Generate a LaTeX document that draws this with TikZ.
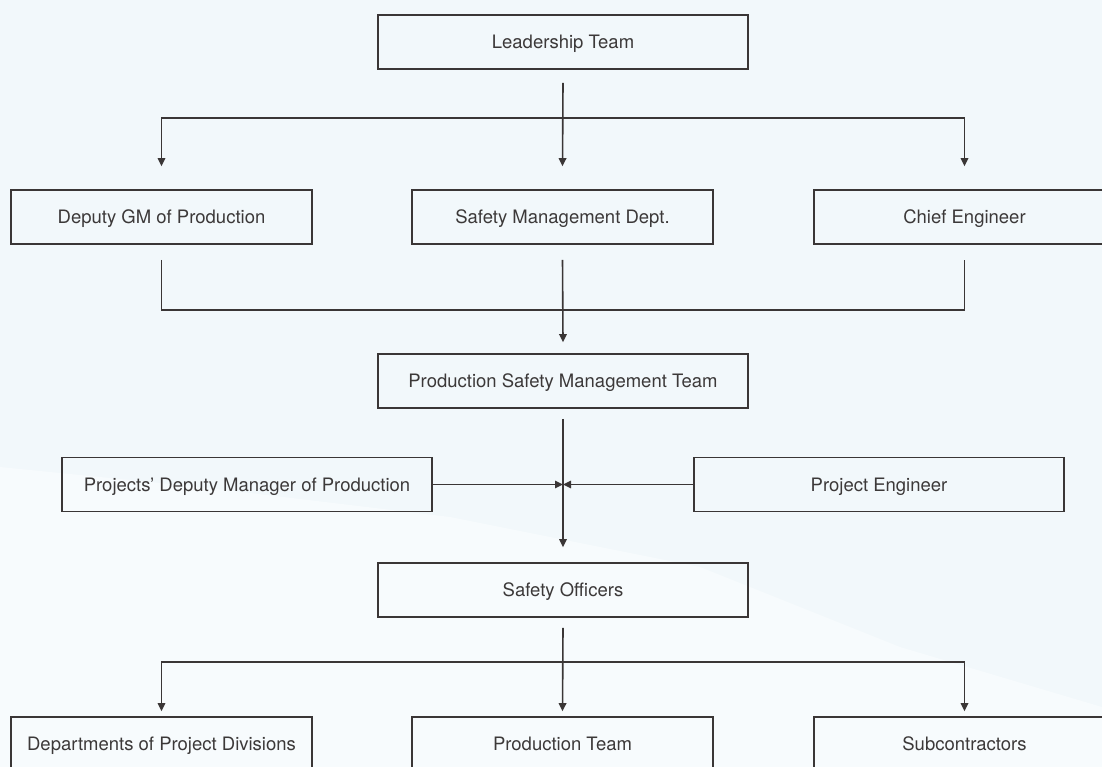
\documentclass[tikz,border=0pt]{standalone}
\usepackage{fontspec}
\setmainfont{TeX Gyre Heros}
\usetikzlibrary{arrows.meta,calc}
\definecolor{bgc}{RGB}{242,248,251}
\definecolor{bgl}{RGB}{247,251,253}
\definecolor{linec}{RGB}{58,54,54}
\definecolor{txtc}{RGB}{60,57,57}
\tikzset{
  box/.style={draw=linec, line width=1.6pt, minimum height=54pt, inner sep=0pt,
    text height=13.3pt, text depth=0pt,
    text=txtc, font=\fontsize{18.5}{20}\selectfont},
  wbox/.style={box, minimum width=370pt},
  nbox/.style={box, minimum width=301pt},
  conn/.style={draw=linec, line width=1.6pt},
  arr/.style={conn, -{Triangle[length=8pt,width=7.5pt]}},
  darr/.style={conn, {Triangle[length=8pt,width=7.5pt]}-{Triangle[length=8pt,width=7.5pt]}}
}
\begin{document}
\begin{tikzpicture}[x=1pt,y=1pt]
% background
\fill[bgc] (0,0) rectangle (1102,767);
\fill[bgl] (0,300) -- (200,280) -- (450,250) -- (700,200) -- (900,120) -- (1102,60) -- (1102,0) -- (0,0) -- cycle;
\useasboundingbox (0,0) rectangle (1102,767);

% nodes
\node[wbox] (lead) at (563,725) {Leadership Team};
\node[nbox] (dgm) at (161.5,550) {Deputy GM of Production};
\node[nbox] (smd) at (562.5,550) {Safety Management Dept.};
\node[nbox] (ce) at (964.5,550) {Chief Engineer};
\node[wbox] (psmt) at (563,386) {Production Safety Management Team};
\node[wbox] (pdm) at (247,282.5) {Projects’ Deputy Manager of Production};
\node[wbox] (pe) at (879,282.5) {Project Engineer};
\node[wbox] (so) at (563,177) {Safety Officers};
\node[nbox] (dep) at (161.5,23) {Departments of Project Divisions};
\node[nbox] (pt) at (562.5,23) {Production Team};
\node[nbox] (sub) at (964.5,23) {Subcontractors};

\coordinate (h1) at (0,649);
\coordinate (h2) at (0,457);
\coordinate (h3) at (0,105);

% Leadership -> row 2
\draw[arr] ([yshift=-13pt]lead.south) -- ([yshift=23pt]smd.north);
\draw[darr] ([yshift=23pt]dgm.north) -- (h1 -| dgm.north) -- (h1 -| ce.north) -- ([yshift=23pt]ce.north);

% row 2 -> PSMT
\draw[conn] ([yshift=-15pt]dgm.south) -- (h2 -| dgm.south) -- (h2 -| ce.south) -- ([yshift=-15pt]ce.south);
\draw[arr] ([yshift=-15pt]smd.south) -- ([yshift=11pt]psmt.north);

% PSMT -> Safety Officers with side inputs
\draw[arr] ([yshift=-10pt]psmt.south) -- ([yshift=15pt]so.north);
\draw[arr] (pdm.east) -- (pdm.east -| psmt.south);
\draw[arr] (pe.west) -- (pe.west -| psmt.south);

% Safety Officers -> bottom row
\draw[arr] ([yshift=-10pt]so.south) -- ([yshift=5pt]pt.north);
\draw[darr] ([yshift=5pt]dep.north) -- (h3 -| dep.north) -- (h3 -| sub.north) -- ([yshift=5pt]sub.north);
\end{tikzpicture}
\end{document}
